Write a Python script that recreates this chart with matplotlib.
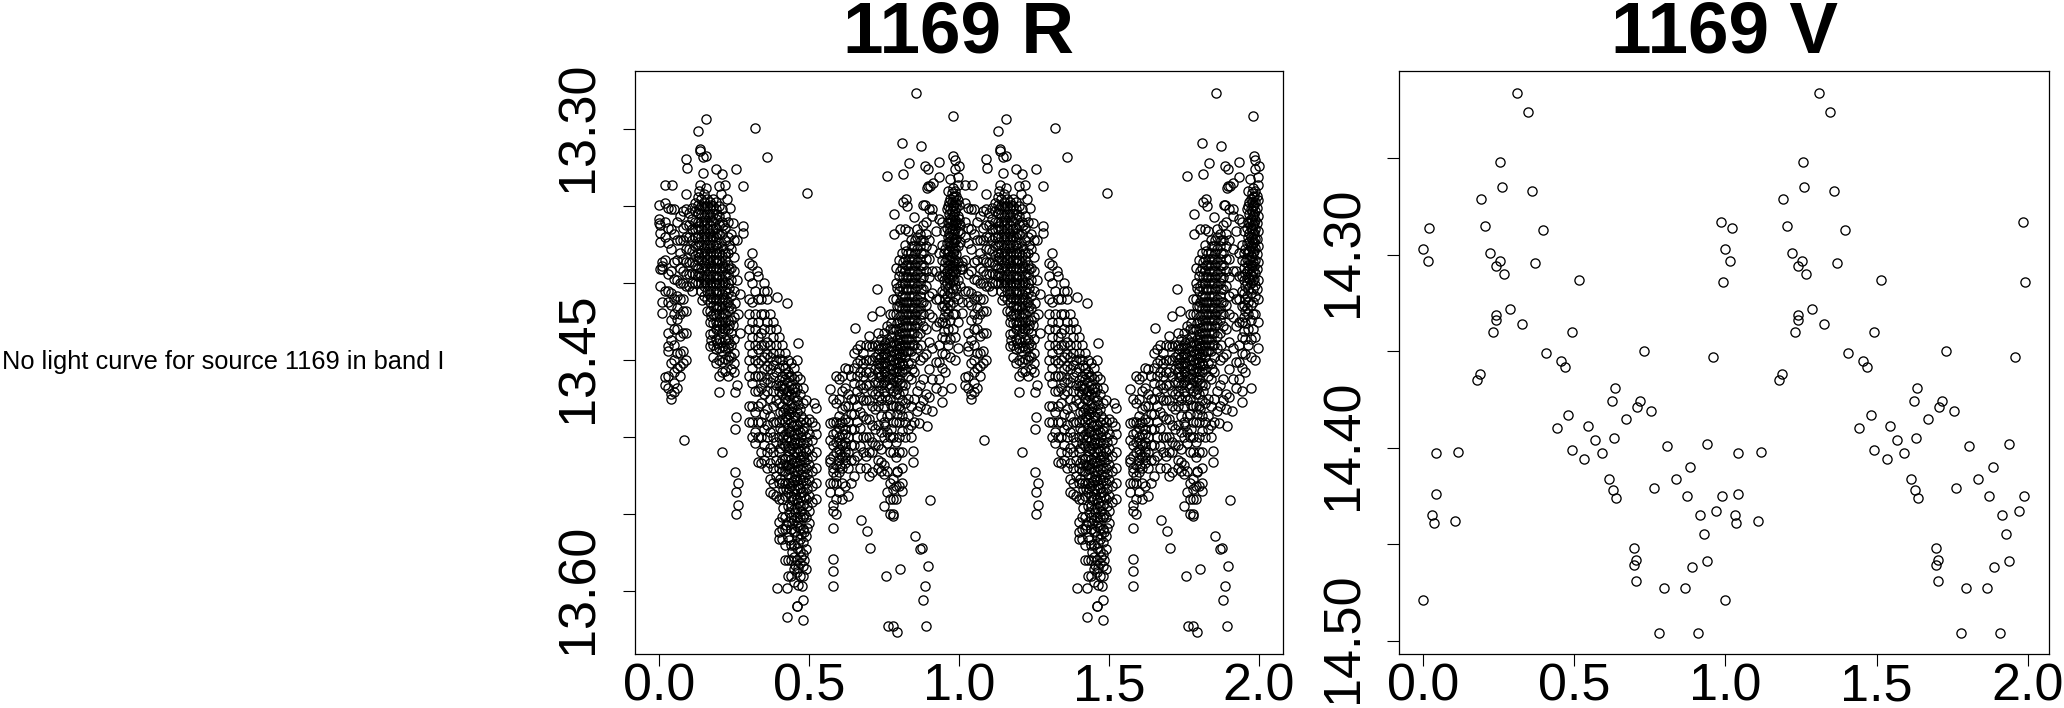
import matplotlib
matplotlib.use('Agg')
import matplotlib.pyplot as plt
from matplotlib.transforms import ScaledTranslation

plt.rcParams['font.family'] = ['Liberation Sans', 'DejaVu Sans']

W, H = 2064, 708

# band V, one cycle
v_phase = [.311, .346, .255, .260, .360, .190, .020, .204, .397, .000, .219, .014, .252, .239, .369, .266,
           .515, .287, .240, .240, .327, .230, .493, .405, .731, .957, .454, .469, .188, .177, .986, .993,
           .634, .624, .718, .706, .755, .669, .480, .441, .544, .567, .631, .805, .938, .043, .116, .491,
           .590, .533, .884, .614, .835, .628, .763, .637, .873, .987, .041, .970, .916, .030, .036, .106,
           .928, .698, .705, .698, .939, .889, .703, .795, .867, .000, .779, .909]
v_mag = [14.216, 14.226, 14.252, 14.265, 14.267, 14.271, 14.286, 14.285, 14.287, 14.297, 14.299, 14.303, 14.303,
         14.306, 14.304, 14.310, 14.313, 14.328, 14.331, 14.334, 14.336, 14.340, 14.340, 14.351, 14.350, 14.353,
         14.355, 14.358, 14.362, 14.365, 14.283, 14.314, 14.369, 14.376, 14.376, 14.379, 14.381, 14.385, 14.383,
         14.390, 14.389, 14.396, 14.395, 14.399, 14.398, 14.403, 14.402, 14.401, 14.403, 14.406, 14.410, 14.416,
         14.416, 14.422, 14.421, 14.426, 14.425, 14.425, 14.424, 14.433, 14.435, 14.435, 14.439, 14.438, 14.445,
         14.452, 14.458, 14.461, 14.459, 14.462, 14.469, 14.473, 14.473, 14.479, 14.496, 14.496]

# band R, isolated points
r_sparse = [(.158, 13.293), (.132, 13.301), (.319, 13.299), (.361, 13.318), (.493, 13.341), (.136, 13.313),
            (.138, 13.314), (.090, 13.319), (.094, 13.325), (.146, 13.318), (.157, 13.317), (.257, 13.326),
            (.281, 13.337), (.021, 13.336), (.043, 13.336), (.091, 13.342), (.858, 13.276), (.980, 13.291),
            (.810, 13.309), (.873, 13.311), (.835, 13.322), (.762, 13.330), (.815, 13.329), (.887, 13.324),
            (.896, 13.326), (.935, 13.321), (.935, 13.331), (.893, 13.338), (.898, 13.337), (.904, 13.337),
            (.915, 13.335), (.824, 13.345), (.815, 13.347), (.828, 13.350), (.882, 13.349), (.887, 13.349),
            (.783, 13.355), (.851, 13.357), (.785, 13.368), (.804, 13.365), (.820, 13.365), (.832, 13.366),
            (.862, 13.365), (.726, 13.404), (.655, 13.429), (.712, 13.421), (.737, 13.418), (.904, 13.541),
            (.673, 13.554), (.695, 13.561), (.704, 13.572), (.854, 13.564), (.871, 13.573), (.876, 13.572),
            (.898, 13.584), (.805, 13.586), (.758, 13.590), (.886, 13.597), (.881, 13.606), (.765, 13.623),
            (.782, 13.623), (.793, 13.627), (.892, 13.623), (.084, 13.502), (.210, 13.510), (.254, 13.523),
            (.265, 13.530), (.258, 13.536), (.265, 13.544), (.258, 13.550), (.258, 13.487), (.254, 13.495),
            (.201, 13.471), (.254, 13.471), (.260, 13.466), (.480, 13.606), (.460, 13.610), (.461, 13.610),
            (.426, 13.617), (.480, 13.619), (.393, 13.598), (.428, 13.598), (.463, 13.596), (.476, 13.597),
            (.518, 13.478), (.523, 13.481), (.521, 13.493), (.793, 13.522), (.794, 13.523), (.812, 13.535),
            (.782, 13.551), (.846, 13.509), (.846, 13.516), (.893, 13.493), (.868, 13.491), (.910, 13.483),
            (.945, 13.477), (.974, 13.468), (.311, 13.380), (.299, 13.387), (.310, 13.388), (.326, 13.392),
            (.352, 13.400), (.362, 13.405), (.393, 13.409), (.428, 13.413), (.465, 13.439), (.146, 13.328),
            (.190, 13.326), (.210, 13.329), (.220, 13.336), (.200, 13.337), (.137, 13.336), (.157, 13.338),
            (.135, 13.340), (.206, 13.342), (.226, 13.345), (.237, 13.351), (.248, 13.361), (.282, 13.363),
            (.280, 13.367), (.260, 13.372), (.252, 13.383), (.260, 13.398), (.271, 13.407), (.254, 13.413),
            (.265, 13.420), (.248, 13.427), (.271, 13.432), (.143, 13.411), (.982, 13.317), (.988, 13.320),
            (1.000, 13.324), (.987, 13.326), (.970, 13.332), (.998, 13.331)]

# band R, crowded parts, by phase column
r_columns = [
    (.000, [13.349, 13.358, 13.361]),
    (.005, [13.362, 13.367, 13.373, 13.391, 13.402]),
    (.012, [13.386, 13.389, 13.391, 13.412, 13.419]),
    (.020, [13.348, 13.360, 13.370, 13.385, 13.405, 13.461, 13.466]),
    (.031, [13.351, 13.364, 13.374, 13.394, 13.405, 13.412, 13.432, 13.441, 13.444, 13.460, 13.468]),
    (.041, [13.352, 13.365, 13.378, 13.392, 13.406, 13.414, 13.424, 13.437, 13.452, 13.472, 13.475]),
    (.052, [13.352, 13.368, 13.386, 13.397, 13.410, 13.420, 13.430, 13.440, 13.450, 13.458, 13.465, 13.471]),
    (.061, [13.360, 13.372, 13.385, 13.398, 13.408, 13.416, 13.423, 13.430, 13.445, 13.455, 13.468]),
    (.072, [13.356, 13.372, 13.380, 13.390, 13.400, 13.410, 13.420, 13.434, 13.445, 13.454, 13.460]),
    (.081, [13.353, 13.364, 13.372, 13.384, 13.392, 13.400, 13.410, 13.418, 13.432, 13.444, 13.452]),
    (.091, [13.352, 13.362, 13.370, 13.378, 13.386, 13.394, 13.402, 13.418, 13.432, 13.450]),
    (.100, [13.354, 13.362, 13.370, 13.378, 13.386, 13.394, 13.402]),
    (.110, [13.351, 13.358, 13.365, 13.372, 13.379, 13.386, 13.393, 13.400, 13.405]),
    (.120, [13.348, 13.353, 13.360, 13.365, 13.370, 13.376, 13.382, 13.388, 13.394, 13.400]),
    (.130, [13.344, 13.349, 13.354, 13.360, 13.365, 13.370, 13.375, 13.380, 13.385, 13.390, 13.395, 13.400]),
    (.140, [13.345, 13.350, 13.355, 13.360, 13.365, 13.370, 13.375, 13.380, 13.385, 13.390, 13.395, 13.400, 13.405]),
    (.150, [13.342, 13.347, 13.352, 13.357, 13.362, 13.367, 13.372, 13.377, 13.382, 13.387, 13.392, 13.397, 13.402, 13.408]),
    (.160, [13.345, 13.350, 13.355, 13.360, 13.365, 13.370, 13.375, 13.380, 13.385, 13.390, 13.395, 13.400, 13.405, 13.410, 13.418]),
    (.170, [13.347, 13.352, 13.357, 13.362, 13.367, 13.372, 13.377, 13.382, 13.387, 13.392, 13.397, 13.402, 13.407, 13.412, 13.418, 13.425, 13.433, 13.441]),
    (.180, [13.345, 13.350, 13.355, 13.360, 13.365, 13.370, 13.375, 13.380, 13.385, 13.390, 13.395, 13.400, 13.405, 13.410, 13.415, 13.420, 13.426, 13.432, 13.440, 13.448]),
    (.190, [13.347, 13.352, 13.358, 13.364, 13.370, 13.375, 13.380, 13.385, 13.390, 13.395, 13.400, 13.405, 13.410, 13.415, 13.420, 13.425, 13.430, 13.436, 13.443, 13.452]),
    (.200, [13.350, 13.356, 13.362, 13.368, 13.374, 13.380, 13.385, 13.390, 13.395, 13.400, 13.405, 13.410, 13.415, 13.420, 13.425, 13.430, 13.436, 13.442, 13.450, 13.460]),
    (.210, [13.352, 13.360, 13.368, 13.376, 13.382, 13.387, 13.392, 13.397, 13.402, 13.407, 13.412, 13.417, 13.422, 13.427, 13.432, 13.438, 13.444, 13.451, 13.458]),
    (.220, [13.356, 13.364, 13.372, 13.380, 13.385, 13.390, 13.395, 13.400, 13.405, 13.410, 13.415, 13.420, 13.425, 13.430, 13.436, 13.442, 13.449, 13.457]),
    (.230, [13.360, 13.370, 13.380, 13.388, 13.394, 13.400, 13.406, 13.412, 13.418, 13.424, 13.430, 13.436, 13.442, 13.450, 13.460]),
    (.240, [13.368, 13.378, 13.390, 13.398, 13.408, 13.416, 13.424, 13.432, 13.440, 13.448, 13.456]),
    (.250, [13.372, 13.392, 13.405, 13.422, 13.436, 13.445, 13.452, 13.458]),
    (.300, [13.395, 13.410, 13.420, 13.430, 13.440, 13.450, 13.460, 13.480, 13.490]),
    (.310, [13.400, 13.412, 13.425, 13.435, 13.445, 13.455, 13.465, 13.480, 13.490, 13.500]),
    (.320, [13.405, 13.420, 13.430, 13.440, 13.450, 13.460, 13.470, 13.484, 13.497, 13.504]),
    (.330, [13.395, 13.410, 13.425, 13.435, 13.443, 13.452, 13.460, 13.470, 13.480, 13.490, 13.500, 13.516]),
    (.340, [13.410, 13.420, 13.432, 13.440, 13.450, 13.460, 13.468, 13.478, 13.490, 13.500, 13.510, 13.517]),
    (.350, [13.405, 13.420, 13.430, 13.440, 13.448, 13.456, 13.464, 13.472, 13.485, 13.495, 13.505, 13.515]),
    (.360, [13.410, 13.425, 13.438, 13.446, 13.454, 13.462, 13.470, 13.482, 13.492, 13.500, 13.510, 13.520]),
    (.370, [13.420, 13.430, 13.440, 13.448, 13.456, 13.464, 13.475, 13.486, 13.497, 13.507, 13.517, 13.527, 13.536]),
    (.380, [13.425, 13.435, 13.445, 13.453, 13.461, 13.470, 13.480, 13.490, 13.500, 13.510, 13.520, 13.530, 13.537]),
    (.390, [13.430, 13.440, 13.450, 13.458, 13.466, 13.476, 13.490, 13.503, 13.515, 13.525, 13.538]),
    (.400, [13.435, 13.445, 13.455, 13.463, 13.470, 13.478, 13.490, 13.500, 13.510, 13.520, 13.530, 13.540, 13.555, 13.562, 13.566]),
    (.410, [13.440, 13.450, 13.460, 13.466, 13.472, 13.480, 13.488, 13.496, 13.504, 13.514, 13.522, 13.530, 13.540, 13.552, 13.560, 13.566]),
    (.420, [13.445, 13.455, 13.462, 13.468, 13.475, 13.482, 13.490, 13.498, 13.506, 13.514, 13.522, 13.530, 13.538, 13.552, 13.560, 13.570, 13.580]),
    (.430, [13.450, 13.458, 13.464, 13.470, 13.476, 13.482, 13.488, 13.494, 13.500, 13.506, 13.512, 13.518, 13.524, 13.530, 13.536, 13.545, 13.555, 13.565, 13.580, 13.590]),
    (.440, [13.452, 13.460, 13.466, 13.472, 13.478, 13.484, 13.490, 13.496, 13.502, 13.508, 13.514, 13.520, 13.526, 13.532, 13.538, 13.545, 13.552, 13.560, 13.570, 13.580, 13.590]),
    (.450, [13.455, 13.462, 13.468, 13.474, 13.480, 13.486, 13.492, 13.498, 13.504, 13.510, 13.516, 13.522, 13.528, 13.534, 13.540, 13.547, 13.554, 13.562, 13.570, 13.578, 13.586, 13.594]),
    (.460, [13.450, 13.460, 13.468, 13.476, 13.484, 13.492, 13.498, 13.504, 13.510, 13.516, 13.522, 13.528, 13.534, 13.540, 13.546, 13.552, 13.558, 13.564, 13.572, 13.580, 13.588]),
    (.470, [13.462, 13.472, 13.482, 13.490, 13.497, 13.503, 13.509, 13.515, 13.521, 13.527, 13.533, 13.539, 13.545, 13.552, 13.559, 13.566, 13.574, 13.582, 13.590]),
    (.480, [13.468, 13.478, 13.488, 13.496, 13.504, 13.512, 13.520, 13.528, 13.536, 13.544, 13.552, 13.560, 13.568, 13.576, 13.584, 13.590]),
    (.490, [13.476, 13.490, 13.500, 13.510, 13.520, 13.530, 13.540, 13.552, 13.564, 13.573, 13.586]),
    (.500, [13.488, 13.498, 13.508, 13.518, 13.528, 13.538, 13.548, 13.556]),
    (.510, [13.490, 13.502, 13.512, 13.522, 13.532, 13.542]),
    (.525, [13.498, 13.510, 13.520, 13.530, 13.540]),
    (.570, [13.469, 13.491, 13.502, 13.514, 13.516, 13.530, 13.536]),
    (.580, [13.475, 13.490, 13.498, 13.505, 13.512, 13.520, 13.523, 13.530, 13.544, 13.548, 13.559, 13.579, 13.587, 13.597]),
    (.590, [13.460, 13.478, 13.490, 13.497, 13.503, 13.510, 13.518, 13.525, 13.530, 13.540, 13.550]),
    (.600, [13.462, 13.475, 13.486, 13.494, 13.500, 13.508, 13.515, 13.523, 13.536]),
    (.610, [13.460, 13.470, 13.482, 13.490, 13.498, 13.505, 13.512, 13.520, 13.530, 13.540]),
    (.620, [13.455, 13.468, 13.480, 13.488, 13.495, 13.503, 13.510, 13.517, 13.532]),
    (.630, [13.456, 13.472, 13.480, 13.490, 13.500, 13.510, 13.520, 13.538]),
    (.640, [13.460, 13.475, 13.485, 13.495, 13.505, 13.515, 13.530]),
    (.650, [13.445, 13.455, 13.465, 13.475, 13.485, 13.495, 13.505, 13.515, 13.525]),
    (.660, [13.443, 13.452, 13.460, 13.470, 13.480, 13.490, 13.500, 13.512]),
    (.670, [13.440, 13.450, 13.458, 13.466, 13.474, 13.484, 13.494, 13.506, 13.520]),
    (.680, [13.445, 13.452, 13.460, 13.468, 13.476, 13.486, 13.500, 13.510]),
    (.690, [13.440, 13.450, 13.458, 13.466, 13.476, 13.488, 13.500, 13.512, 13.520]),
    (.700, [13.434, 13.441, 13.450, 13.458, 13.466, 13.476, 13.488, 13.500, 13.510, 13.525]),
    (.710, [13.441, 13.450, 13.460, 13.470, 13.480, 13.492, 13.503, 13.510, 13.523]),
    (.720, [13.440, 13.448, 13.456, 13.464, 13.472, 13.482, 13.495, 13.505]),
    (.730, [13.432, 13.440, 13.446, 13.452, 13.458, 13.464, 13.470, 13.480, 13.492, 13.505, 13.515, 13.520]),
    (.740, [13.436, 13.442, 13.448, 13.454, 13.460, 13.466, 13.476, 13.486, 13.497, 13.508, 13.516, 13.522]),
    (.750, [13.432, 13.440, 13.446, 13.452, 13.458, 13.464, 13.470, 13.480, 13.490, 13.500, 13.518, 13.524, 13.545]),
    (.760, [13.428, 13.436, 13.442, 13.448, 13.454, 13.460, 13.466, 13.476, 13.486, 13.497, 13.504, 13.522, 13.536]),
    (.770, [13.420, 13.430, 13.438, 13.444, 13.450, 13.456, 13.462, 13.468, 13.475, 13.485, 13.500, 13.510, 13.530, 13.540, 13.550]),
    (.780, [13.410, 13.420, 13.430, 13.438, 13.444, 13.450, 13.456, 13.462, 13.470, 13.480, 13.490, 13.500, 13.510, 13.527, 13.534, 13.540, 13.550]),
    (.790, [13.390, 13.400, 13.410, 13.420, 13.430, 13.440, 13.446, 13.452, 13.458, 13.464, 13.472, 13.480, 13.490, 13.503, 13.513, 13.532, 13.540]),
    (.800, [13.385, 13.395, 13.405, 13.415, 13.425, 13.433, 13.439, 13.445, 13.451, 13.457, 13.462, 13.472, 13.480, 13.490, 13.500, 13.510, 13.532]),
    (.810, [13.380, 13.390, 13.400, 13.408, 13.416, 13.424, 13.432, 13.440, 13.446, 13.452, 13.458, 13.466, 13.476, 13.486, 13.496, 13.510, 13.520, 13.530]),
    (.820, [13.375, 13.384, 13.392, 13.400, 13.408, 13.416, 13.424, 13.432, 13.440, 13.448, 13.456, 13.466, 13.478, 13.490, 13.500]),
    (.830, [13.380, 13.388, 13.396, 13.404, 13.412, 13.420, 13.428, 13.436, 13.444, 13.452, 13.460, 13.475, 13.486, 13.495]),
    (.840, [13.372, 13.380, 13.388, 13.396, 13.404, 13.412, 13.420, 13.428, 13.436, 13.444, 13.452, 13.462, 13.480, 13.492, 13.500]),
    (.850, [13.376, 13.384, 13.392, 13.400, 13.408, 13.416, 13.424, 13.432, 13.440, 13.448, 13.458, 13.475, 13.490]),
    (.860, [13.370, 13.378, 13.386, 13.394, 13.402, 13.410, 13.418, 13.426, 13.434, 13.442, 13.470, 13.483]),
    (.870, [13.368, 13.376, 13.384, 13.392, 13.400, 13.408, 13.416, 13.424, 13.432, 13.450, 13.466, 13.480]),
    (.880, [13.362, 13.372, 13.380, 13.388, 13.396, 13.404, 13.412, 13.420, 13.428, 13.448, 13.462, 13.476]),
    (.890, [13.360, 13.368, 13.376, 13.384, 13.392, 13.402, 13.414, 13.430, 13.446, 13.472, 13.482]),
    (.900, [13.352, 13.372, 13.384, 13.396, 13.408, 13.420, 13.438, 13.456, 13.474]),
    (.912, [13.352, 13.356, 13.378, 13.392, 13.406, 13.422, 13.442, 13.462]),
    (.925, [13.366, 13.392, 13.410, 13.428, 13.451, 13.468]),
    (.935, [13.358, 13.380, 13.395, 13.410, 13.425, 13.440, 13.451, 13.462]),
    (.945, [13.360, 13.375, 13.385, 13.395, 13.405, 13.415, 13.425, 13.435, 13.445, 13.455, 13.470]),
    (.955, [13.378, 13.386, 13.394, 13.402, 13.410, 13.418, 13.426, 13.436, 13.446, 13.458]),
    (.965, [13.340, 13.350, 13.360, 13.370, 13.380, 13.388, 13.396, 13.404, 13.412, 13.420, 13.430, 13.440]),
    (.972, [13.345, 13.352, 13.358, 13.364, 13.370, 13.376, 13.382, 13.388, 13.394, 13.400, 13.406, 13.414, 13.424, 13.436, 13.448]),
    (.980, [13.338, 13.344, 13.350, 13.356, 13.362, 13.368, 13.374, 13.380, 13.386, 13.392, 13.398, 13.404, 13.412, 13.420, 13.430]),
    (.988, [13.340, 13.347, 13.353, 13.359, 13.365, 13.371, 13.377, 13.385, 13.393, 13.401, 13.408, 13.420, 13.435, 13.450]),
    (.996, [13.336, 13.346, 13.356, 13.366, 13.376, 13.386, 13.398, 13.410, 13.425, 13.442]),
    # off-grid columns that thicken the black parts
    (.134, [13.352, 13.363, 13.373, 13.383, 13.393]),
    (.155, [13.350, 13.359, 13.369, 13.379, 13.389, 13.399]),
    (.175, [13.349, 13.359, 13.369, 13.379, 13.389, 13.399, 13.409, 13.421, 13.437]),
    (.195, [13.355, 13.367, 13.377, 13.387, 13.397, 13.407, 13.417, 13.427, 13.439]),
    (.215, [13.362, 13.378, 13.389, 13.399, 13.409, 13.419, 13.429, 13.441]),
    (.235, [13.375, 13.391, 13.403, 13.415, 13.427, 13.439, 13.447]),
    (.435, [13.461, 13.473, 13.485, 13.497, 13.509, 13.521, 13.533, 13.549, 13.567]),
    (.445, [13.469, 13.481, 13.493, 13.505, 13.517, 13.529, 13.541, 13.556, 13.575]),
    (.455, [13.471, 13.487, 13.501, 13.513, 13.525, 13.537, 13.549, 13.561, 13.583]),
    (.465, [13.479, 13.495, 13.507, 13.519, 13.531, 13.543, 13.555, 13.569, 13.585]),
    (.475, [13.486, 13.500, 13.512, 13.524, 13.536, 13.548, 13.563, 13.578]),
    (.485, [13.494, 13.507, 13.516, 13.526, 13.538, 13.550, 13.562, 13.580]),
    (.495, [13.503, 13.514, 13.524, 13.534, 13.545, 13.559]),
    (.405, [13.449, 13.467, 13.484, 13.494, 13.507, 13.517, 13.527]),
    (.415, [13.453, 13.469, 13.484, 13.500, 13.518, 13.534, 13.546]),
    (.425, [13.459, 13.472, 13.486, 13.502, 13.518, 13.534, 13.557]),
    (.735, [13.443, 13.449, 13.455, 13.461, 13.473]),
    (.755, [13.439, 13.445, 13.451, 13.457, 13.463, 13.473, 13.493]),
    (.775, [13.426, 13.434, 13.441, 13.447, 13.453, 13.459, 13.466, 13.479, 13.495]),
    (.795, [13.403, 13.415, 13.426, 13.436, 13.443, 13.449, 13.455, 13.461, 13.469, 13.485]),
    (.805, [13.392, 13.402, 13.412, 13.421, 13.429, 13.436, 13.442, 13.448, 13.454, 13.465, 13.482]),
    (.815, [13.386, 13.395, 13.404, 13.412, 13.420, 13.428, 13.436, 13.444, 13.453, 13.470]),
    (.825, [13.379, 13.388, 13.396, 13.404, 13.412, 13.420, 13.428, 13.436, 13.444]),
    (.835, [13.384, 13.392, 13.400, 13.408, 13.416, 13.424, 13.432, 13.440]),
    (.845, [13.376, 13.384, 13.392, 13.400, 13.408, 13.416, 13.424, 13.432, 13.440, 13.456]),
    (.855, [13.372, 13.380, 13.388, 13.396, 13.404, 13.412, 13.420, 13.428]),
    (.875, [13.372, 13.380, 13.388, 13.396, 13.404, 13.412, 13.420, 13.440]),
    (.950, [13.366, 13.380, 13.390, 13.398, 13.406, 13.414, 13.422, 13.431]),
    (.960, [13.352, 13.364, 13.374, 13.384, 13.392, 13.400, 13.408, 13.416]),
    (.968, [13.347, 13.355, 13.361, 13.367, 13.373, 13.379, 13.385, 13.391, 13.397]),
    (.976, [13.341, 13.347, 13.353, 13.359, 13.365, 13.371, 13.377, 13.383, 13.389, 13.395]),
    (.984, [13.343, 13.349, 13.355, 13.361, 13.367, 13.373, 13.379, 13.389, 13.397]),
    (.992, [13.343, 13.351, 13.361, 13.371, 13.381, 13.391, 13.404]),
    (.620, [13.498, 13.506, 13.513]),
    (.605, [13.491, 13.504, 13.511, 13.519]),
]

r_phase = [p for p, m in r_sparse] + [c[0] for c in r_columns for _ in c[1]]
r_mag = [m for p, m in r_sparse] + [m for c in r_columns for m in c[1]]

x_ticks = [0.0, 0.5, 1.0, 1.5, 2.0]
x_labels = ['0.0', '0.5', '1.0', '1.5', '2.0']
r_yticks = [13.30, 13.35, 13.40, 13.45, 13.50, 13.55, 13.60]
r_ylabels = ['13.30', '', '', '13.45', '', '', '13.60']
v_yticks = [14.25, 14.30, 14.35, 14.40, 14.45, 14.50]
v_ylabels = ['', '14.30', '', '14.40', '', '14.50']


def panel(fig, box, phase, mag, title, xlim, ylim, yticks, ylabels):
    left, top, right, bottom = box
    ax = fig.add_axes([left / W, 1 - bottom / H, (right - left) / W, (bottom - top) / H])
    # two cycles are shown, second one is the first shifted by 1
    ax.plot(list(phase) + [p + 1 for p in phase], list(mag) * 2, 'o', ms=6.6, mfc='none', mec='black', mew=0.95)
    ax.set_xlim(*xlim)
    ax.set_ylim(*ylim)
    ax.set_xticks(x_ticks, x_labels)
    ax.set_yticks(yticks, ylabels, rotation=90, va='center')
    ax.tick_params(axis='x', length=8.3, width=0.8, labelsize=37.5, pad=-2)
    ax.tick_params(axis='y', length=8.3, width=0.8, labelsize=37.5, pad=14)
    # y labels sit a little higher than the ticks
    up = ScaledTranslation(0, 2.5 / 100, fig.dpi_scale_trans)
    for lab in ax.get_yticklabels():
        lab.set_transform(lab.get_transform() + up)
    for s in ax.spines.values():
        s.set_linewidth(0.9)
    ax.set_title(title, fontsize=52.5, fontweight='bold', pad=13.5)
    return ax


def main():
    fig = plt.figure(figsize=(W / 100, H / 100), dpi=100)
    fig.text(2 / W, 1 - 369 / H, 'No light curve for source 1169 in band I', fontsize=18.3, va='baseline')
    panel(fig, (634.6, 71, 1283, 654), r_phase, r_mag, '1169 R', (-0.0807, 2.0803), (13.641, 13.262),
          r_yticks, r_ylabels)
    panel(fig, (1399.4, 71, 2049, 654), v_phase, v_mag, '1169 V', (-0.0794, 2.0708), (14.507, 14.2047),
          v_yticks, v_ylabels)
    fig.savefig('out.png', dpi=100)


if __name__ == '__main__':
    main()
